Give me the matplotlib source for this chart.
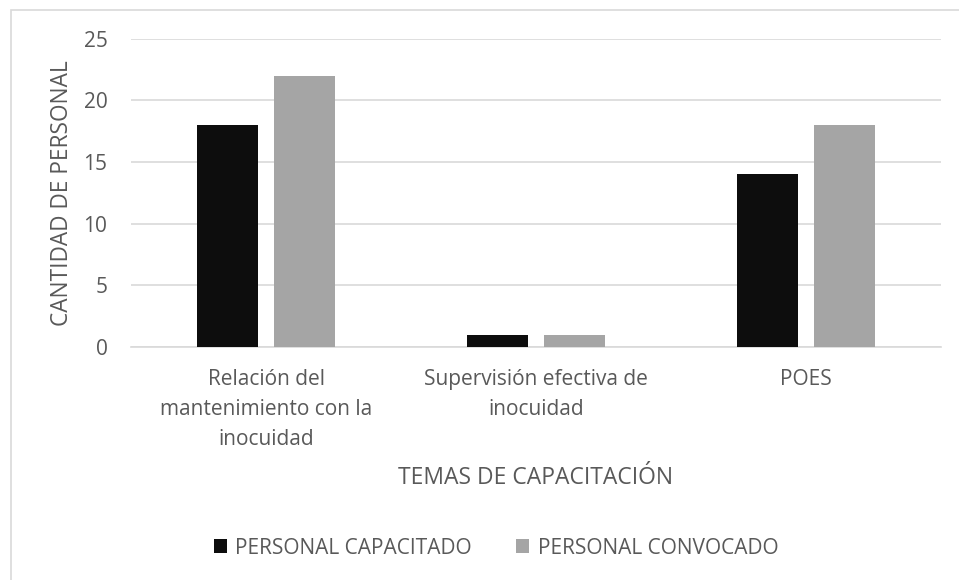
import matplotlib.pyplot as plt
import numpy as np
from matplotlib.patches import Rectangle

temas = ['Relación del\nmantenimiento con la\ninocuidad',
         'Supervisión efectiva de\ninocuidad',
         'POES']
capacitado = [18, 1, 14]
convocado = [22, 1, 18]

plt.rcParams['font.family'] = ['Open Sans', 'DejaVu Sans']
gris_texto = '#595959'

fig = plt.figure(figsize=(9.59, 5.8), dpi=100)
ax = fig.add_axes([131 / 959, 1 - 347 / 580, 810 / 959, 308.3 / 580])

# chart frame
fig.patches.append(Rectangle((11 / 959, -0.1), 1.1, 1 - 10 / 580 + 0.1,
                             transform=fig.transFigure, fill=False,
                             edgecolor='#d9d9d9', linewidth=1.2))

x = np.arange(len(temas))
width = 0.226  # bar width
gap = 0.059

ax.bar(x - (width + gap) / 2, capacitado, width=width, color='#0d0d0d',
       label='PERSONAL CAPACITADO', zorder=3)
ax.bar(x + (width + gap) / 2, convocado, width=width, color='#a5a5a5',
       label='PERSONAL CONVOCADO', zorder=3)

ax.set_xlim(-0.5, 2.5)
ax.set_ylim(0, 25)
ax.set_yticks(range(0, 26, 5))
ax.yaxis.grid(True, color='#d9d9d9', linewidth=1.2, zorder=0)
for s in ['top', 'right', 'left']:
    ax.spines[s].set_visible(False)
ax.spines['bottom'].set_color('#d9d9d9')
ax.spines['bottom'].set_linewidth(1.2)
ax.tick_params(axis='both', length=0, colors=gris_texto, labelsize=15)
ax.tick_params(axis='y', pad=17)
ax.tick_params(axis='x', pad=16)
ax.set_xticks(x)
ax.set_xticklabels(temas, fontsize=15, linespacing=1.55)

fig.text(536 / 959, 1 - 478 / 580, 'TEMAS DE CAPACITACIÓN', ha='center',
         va='center', fontsize=16.5, color=gris_texto)
fig.text(62 / 959, 1 - 193 / 580, 'CANTIDAD DE PERSONAL', ha='center',
         va='center', rotation=90, fontsize=16.3, color=gris_texto)

fig.legend(loc='center', bbox_to_anchor=(496 / 959, 1 - 548 / 580), ncol=2,
           frameon=False, fontsize=15, labelcolor=gris_texto,
           handlelength=0.65, handleheight=0.65, handletextpad=0.4,
           columnspacing=2.1)

fig.savefig('out.png', dpi=100)
